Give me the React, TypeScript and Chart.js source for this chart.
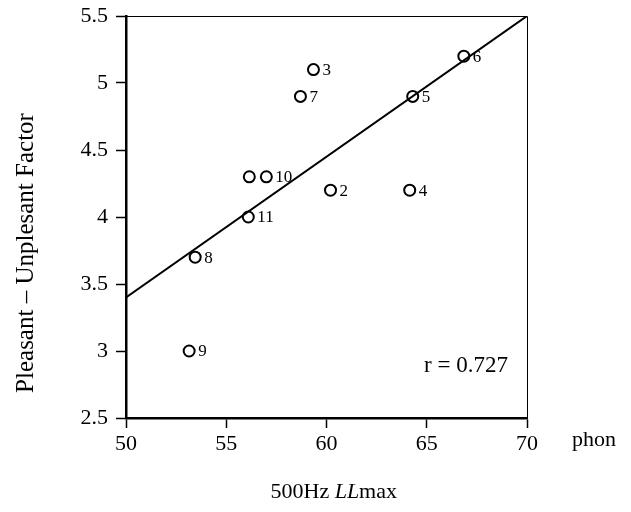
import React, { useEffect, useRef } from "react";
import { Chart, registerables } from "chart.js";

Chart.register(...registerables);

const pointLabels = ["", "2", "3", "4", "5", "6", "7", "8", "9", "10", "11"];
const xValues = [56.15, 60.2, 59.35, 64.15, 64.3, 66.85, 58.7, 53.45, 53.15, 57.0, 56.1];
const yValues = [4.3, 4.2, 5.1, 4.2, 4.9, 5.2, 4.9, 3.7, 3.0, 4.3, 4.0];
const fitX = [50, 70];
const fitY = [3.4, 5.5];
const xTicks = [50, 55, 60, 65, 70];
const yTicks = [2.5, 3, 3.5, 4, 4.5, 5, 5.5];
const rText = "r = 0.727";
const yTitle = "Pleasant \u2013 Unplesant Factor";
const xUnit = "phon";

const FONT = "'Liberation Serif', 'Times New Roman', serif";

const overlay = {
  id: "overlay",
  afterDraw(chart: any) {
    const { ctx, chartArea } = chart;
    const { left, right, top, bottom } = chartArea;
    ctx.save();
    ctx.strokeStyle = "#000";
    ctx.lineWidth = 1;
    ctx.beginPath();
    ctx.moveTo(left, top + 0.5);
    ctx.lineTo(right + 0.5, top + 0.5);
    ctx.lineTo(right + 0.5, bottom);
    ctx.stroke();

    const meta = chart.getDatasetMeta(1);
    ctx.fillStyle = "#000";
    ctx.font = `17px ${FONT}`;
    ctx.textBaseline = "middle";
    ctx.textAlign = "left";
    meta.data.forEach((el: any, i: number) => {
      const t = pointLabels[i];
      if (t) ctx.fillText(t, el.x + 9, el.y + 1);
    });

    ctx.font = `23px ${FONT}`;
    ctx.textAlign = "right";
    ctx.fillText(rText, right - 19, 366);

    ctx.save();
    ctx.translate(26, 253);
    ctx.rotate(-Math.PI / 2);
    ctx.textAlign = "center";
    ctx.font = `25px ${FONT}`;
    ctx.fillText(yTitle, 0, 0);
    ctx.restore();

    const parts = [
      { t: "500Hz ", f: `22px ${FONT}` },
      { t: "LL", f: `italic 22px ${FONT}` },
      { t: "max", f: `22px ${FONT}` },
    ];
    let total = 0;
    parts.forEach((p) => {
      ctx.font = p.f;
      total += ctx.measureText(p.t).width;
    });
    let x = 397 - total;
    ctx.textAlign = "left";
    parts.forEach((p) => {
      ctx.font = p.f;
      ctx.fillText(p.t, x, 492);
      x += ctx.measureText(p.t).width;
    });

    ctx.font = `22px ${FONT}`;
    ctx.fillText(xUnit, 572, 440);
    ctx.restore();
  },
};

export default function App() {
  const ref = useRef<HTMLCanvasElement>(null);
  useEffect(() => {
    if (!ref.current) return;
    const chart = new Chart(ref.current, {
      type: "scatter",
      data: {
        datasets: [
          {
            type: "line",
            data: fitX.map((x, i) => ({ x, y: fitY[i] })),
            borderColor: "#000",
            borderWidth: 2,
            pointRadius: 0,
            fill: false,
          } as any,
          {
            data: xValues.map((x, i) => ({ x, y: yValues[i] })),
            pointRadius: 5.5,
            pointBorderWidth: 2,
            pointBorderColor: "#000",
            pointBackgroundColor: "#fff",
            borderColor: "#000",
            backgroundColor: "#fff",
          },
        ],
      },
      options: {
        responsive: false,
        animation: false,
        layout: { padding: { top: 16, right: 104, left: 0, bottom: 0 } },
        plugins: { legend: { display: false }, tooltip: { enabled: false } },
        scales: {
          x: {
            type: "linear",
            min: 50,
            max: 70,
            afterBuildTicks: (s: any) => {
              s.ticks = xTicks.map((v) => ({ value: v }));
            },
            afterFit: (s: any) => {
              s.height = 94;
              s.paddingLeft = 0;
              s.paddingRight = 0;
            },
            grid: {
              drawOnChartArea: false,
              tickLength: 10,
              tickWidth: 1.5,
              color: "#000",
            },
            border: { display: true, color: "#000", width: 2.5 },
            ticks: {
              color: "#000",
              font: { family: FONT, size: 22 },
              padding: 3,
              maxRotation: 0,
              callback: (v: any) => String(v),
            },
          },
          y: {
            type: "linear",
            min: 2.5,
            max: 5.5,
            afterBuildTicks: (s: any) => {
              s.ticks = yTicks.map((v) => ({ value: v }));
            },
            afterFit: (s: any) => {
              s.width = 126;
              s.paddingTop = 0;
              s.paddingBottom = 0;
            },
            grid: {
              drawOnChartArea: false,
              tickLength: 10,
              tickWidth: 1.5,
              color: "#000",
            },
            border: { display: true, color: "#000", width: 2.5 },
            ticks: {
              color: "#000",
              font: { family: FONT, size: 22 },
              padding: 8,
              callback: (v: any) => String(v),
            },
          },
        },
      },
      plugins: [overlay],
    });
    return () => chart.destroy();
  }, []);
  return (
    <canvas
      ref={ref}
      width={631}
      height={512}
      style={{ position: "fixed", left: 0, top: 0, width: 631, height: 512 }}
    />
  );
}
